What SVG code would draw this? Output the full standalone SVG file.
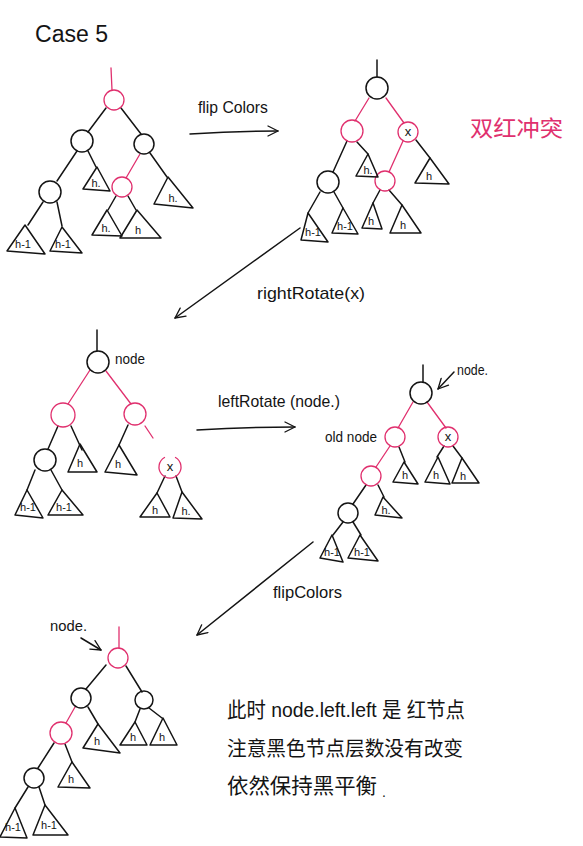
<svg xmlns="http://www.w3.org/2000/svg" width="583" height="846" viewBox="0 0 583 846">
<style>
  .bg{fill:#ffffff}
  .b{fill:none;stroke:#141414;stroke-width:1.5;stroke-linecap:round;stroke-linejoin:round}
  .r{fill:none;stroke:#e0306e;stroke-width:1.3;stroke-linecap:round;stroke-linejoin:round}
  .t{font-family:"Liberation Sans","Noto Sans CJK SC",sans-serif;fill:#141414}
  .lb{font-family:"Liberation Sans",sans-serif;fill:#141414;font-size:11px;text-anchor:middle}
  .cx{font-family:"Liberation Sans",sans-serif;fill:#141414;font-size:13px;text-anchor:middle}
  .pk{fill:#e0306e}
</style>
<defs>
  <marker id="arr" viewBox="0 0 12 12" refX="11" refY="6" markerWidth="12" markerHeight="12" markerUnits="userSpaceOnUse" orient="auto">
    <path d="M1,1 L11,6 L1,11" fill="none" stroke="#141414" stroke-width="1.3" stroke-linecap="round" stroke-linejoin="round"/>
  </marker>
</defs>
<rect class="bg" x="0" y="0" width="583" height="846"/>

<text class="t" x="35" y="42" font-size="23" textLength="73" lengthAdjust="spacingAndGlyphs">Case 5</text>

<!-- connectors -->
<g id="connectors">
  <!-- tree 1 -->
  <line class="r" x1="111" y1="68" x2="112" y2="90"/>
  <line class="b" x1="106" y1="108" x2="88" y2="132"/>
  <line class="b" x1="121" y1="108" x2="141" y2="134"/>
  <line class="b" x1="77" y1="151" x2="57" y2="181"/>
  <line class="b" x1="88" y1="151" x2="96" y2="167"/>
  <line class="r" x1="140" y1="154" x2="126" y2="178"/>
  <line class="b" x1="150" y1="153" x2="167" y2="177"/>
  <line class="b" x1="43" y1="202" x2="28" y2="225"/>
  <line class="b" x1="57" y1="202" x2="62" y2="226"/>
  <line class="b" x1="116" y1="196" x2="108" y2="210"/>
  <line class="b" x1="128" y1="196" x2="136" y2="210"/>
  <!-- tree 2 -->
  <line class="b" x1="377" y1="60" x2="377" y2="77"/>
  <line class="r" x1="369" y1="98" x2="355" y2="121"/>
  <line class="r" x1="386" y1="98" x2="404" y2="123"/>
  <line class="b" x1="347" y1="141" x2="333" y2="172"/>
  <line class="b" x1="357" y1="142" x2="368" y2="154"/>
  <line class="r" x1="403" y1="141" x2="389" y2="172"/>
  <line class="b" x1="416" y1="140" x2="430" y2="158"/>
  <line class="b" x1="320" y1="192" x2="308" y2="213"/>
  <line class="b" x1="334" y1="192" x2="343" y2="208"/>
  <line class="b" x1="380" y1="190" x2="373" y2="203"/>
  <line class="b" x1="389" y1="190" x2="402" y2="205"/>
  <!-- tree 3 -->
  <line class="b" x1="97" y1="330" x2="97" y2="351"/>
  <line class="r" x1="90" y1="370" x2="68" y2="404"/>
  <line class="r" x1="106" y1="371" x2="131" y2="404"/>
  <line class="b" x1="58" y1="426" x2="48" y2="449"/>
  <line class="b" x1="71" y1="426" x2="82" y2="450"/>
  <line class="b" x1="128" y1="425" x2="119" y2="445"/>
  <line class="r" x1="145" y1="426" x2="153" y2="438"/>
  <line class="b" x1="35" y1="470" x2="27" y2="490"/>
  <line class="b" x1="51" y1="470" x2="62" y2="490"/>
  <line class="b" x1="165" y1="476" x2="157" y2="493"/>
  <line class="b" x1="176" y1="476" x2="182" y2="492"/>
  <!-- tree 4 -->
  <line class="b" x1="423" y1="365" x2="423" y2="382"/>
  <line class="r" x1="413" y1="402" x2="398" y2="428"/>
  <line class="r" x1="427" y1="402" x2="446" y2="428"/>
  <line class="r" x1="390" y1="446" x2="376" y2="467"/>
  <line class="b" x1="399" y1="447" x2="405" y2="462"/>
  <line class="b" x1="444" y1="446" x2="437" y2="457"/>
  <line class="b" x1="453" y1="446" x2="462" y2="458"/>
  <line class="b" x1="366" y1="485" x2="353" y2="504"/>
  <line class="b" x1="378" y1="485" x2="384" y2="497"/>
  <line class="b" x1="343" y1="522" x2="333" y2="535"/>
  <line class="b" x1="353" y1="522" x2="361" y2="535"/>
  <!-- tree 5 -->
  <line class="r" x1="119" y1="627" x2="119" y2="648"/>
  <line class="b" x1="106" y1="665" x2="86" y2="689"/>
  <line class="b" x1="126" y1="666" x2="142" y2="692"/>
  <line class="r" x1="75" y1="707" x2="66" y2="723"/>
  <line class="b" x1="88" y1="707" x2="98" y2="724"/>
  <line class="b" x1="140" y1="709" x2="135" y2="722"/>
  <line class="b" x1="149" y1="708" x2="162" y2="718"/>
  <line class="b" x1="54" y1="743" x2="38" y2="768"/>
  <line class="b" x1="65" y1="744" x2="72" y2="762"/>
  <line class="b" x1="28" y1="787" x2="15" y2="808"/>
  <line class="b" x1="39" y1="787" x2="45" y2="805"/>
  <!-- transition arrows -->
  <path class="b" d="M190,134 Q235,131 278,131" marker-end="url(#arr)"/>
  <line class="b" x1="300" y1="228" x2="175" y2="318" stroke-width="1.2" marker-end="url(#arr)"/>
  <path class="b" d="M197,430 Q245,427 295,427" marker-end="url(#arr)"/>
  <line class="b" x1="313" y1="542" x2="197" y2="635" stroke-width="1.2" marker-end="url(#arr)"/>
  <line class="b" x1="454" y1="372" x2="438" y2="389" marker-end="url(#arr)"/>
  <line class="b" x1="81" y1="638" x2="101" y2="650" marker-end="url(#arr)"/>
</g>

<!-- transition labels -->
<text class="t" x="198" y="113" font-size="17" textLength="70" lengthAdjust="spacingAndGlyphs">flip Colors</text>
<text class="t pk" x="470" y="136" font-size="22" textLength="93" lengthAdjust="spacingAndGlyphs">双红冲突</text>
<text class="t" x="257" y="299" font-size="17" textLength="108" lengthAdjust="spacingAndGlyphs">rightRotate(x)</text>
<text class="t" x="218" y="407" font-size="17" textLength="122" lengthAdjust="spacingAndGlyphs">leftRotate (node.)</text>
<text class="t" x="273" y="598" font-size="17" textLength="69" lengthAdjust="spacingAndGlyphs">flipColors</text>

<!-- tree 1 -->
<g id="t1-root"><circle class="r" cx="114" cy="100" r="10"/></g>
<g id="t1-a"><circle class="b" cx="82" cy="141" r="11"/></g>
<g id="t1-b"><circle class="b" cx="144" cy="144" r="10"/></g>
<g id="t1-c"><circle class="b" cx="50" cy="192" r="11"/></g>
<g id="t1-d"><circle class="r" cx="122" cy="187" r="10"/></g>
<g id="t1-s1"><polygon class="b" points="97,167 83,189 110,191"/><text class="lb" x="96" y="187">h.</text></g>
<g id="t1-s2"><polygon class="b" points="25,225 7,251 45,254"/><text class="lb" x="23" y="248">h-1</text></g>
<g id="t1-s3"><polygon class="b" points="62,227 50,251 82,253"/><text class="lb" x="63" y="248">h-1</text></g>
<g id="t1-s4"><polygon class="b" points="168,177 154,204 193,208"/><text class="lb" x="173" y="202" font-size="12">h.</text></g>
<g id="t1-s5"><polygon class="b" points="107,210 92,235 122,236"/><text class="lb" x="106" y="232" font-size="12">h.</text></g>
<g id="t1-s6"><polygon class="b" points="137,210 120,238 161,238"/><text class="lb" x="138" y="234" font-size="12">h</text></g>

<!-- tree 2 -->
<g id="t2-root"><circle class="b" cx="377" cy="88" r="11"/></g>
<g id="t2-a"><circle class="r" cx="352" cy="131" r="11"/></g>
<g id="t2-x"><circle class="r" cx="408" cy="132" r="10"/><text class="cx" x="408" y="136">x</text></g>
<g id="t2-c"><circle class="b" cx="328" cy="182" r="11"/></g>
<g id="t2-d"><circle class="r" cx="385" cy="181" r="10"/></g>
<g id="t2-s1"><polygon class="b" points="368,154 356,176 378,177"/><text class="lb" x="368" y="174" font-size="10">h.</text></g>
<g id="t2-s2"><polygon class="b" points="430,158 415,183 449,184"/><text class="lb" x="429" y="180" font-size="12">h</text></g>
<g id="t2-s3"><polygon class="b" points="308,213 301,240 328,242"/><text class="lb" x="313" y="236" font-size="10">h-1</text></g>
<g id="t2-s4"><polygon class="b" points="343,208 332,233 358,234"/><text class="lb" x="345" y="230" font-size="10">h-1</text></g>
<g id="t2-s5"><polygon class="b" points="373,203 362,228 382,229"/><text class="lb" x="371" y="225" font-size="12">h</text></g>
<g id="t2-s6"><polygon class="b" points="402,205 390,233 421,233"/><text class="lb" x="403" y="229" font-size="12">h</text></g>

<!-- tree 3 -->
<g id="t3-node"><circle class="b" cx="98" cy="362" r="11"/><text class="t" x="115" y="364" font-size="15" textLength="30" lengthAdjust="spacingAndGlyphs">node</text></g>
<g id="t3-a"><circle class="r" cx="63" cy="415" r="12"/></g>
<g id="t3-b"><circle class="r" cx="135" cy="414" r="11"/></g>
<g id="t3-c"><circle class="b" cx="45" cy="460" r="11"/></g>
<g id="t3-x"><path class="r" d="M164.5,457.5 A11,11 0 1,0 175.5,457.5"/><text class="cx" x="170" y="471">x</text></g>
<g id="t3-s1"><polygon class="b" points="80,444 68,472 97,472"/><text class="lb" x="80" y="467" font-size="12">h</text></g>
<g id="t3-s2"><polygon class="b" points="119,445 105,472 137,475"/><text class="lb" x="118" y="468" font-size="12">h</text></g>
<g id="t3-s3"><polygon class="b" points="27,490 15,515 43,518"/><text class="lb" x="28" y="511">h-1</text></g>
<g id="t3-s4"><polygon class="b" points="62,490 48,515 83,515"/><text class="lb" x="64" y="511">h-1</text></g>
<g id="t3-s5"><polygon class="b" points="157,493 140,517 170,517"/><text class="lb" x="155" y="514" font-size="12">h</text></g>
<g id="t3-s6"><polygon class="b" points="182,492 173,518 202,519"/><text class="lb" x="186" y="515" font-size="12">h.</text></g>

<!-- tree 4 -->
<g id="t4-node"><circle class="b" cx="421" cy="393" r="11"/><text class="t" x="457" y="375" font-size="15" textLength="31" lengthAdjust="spacingAndGlyphs">node.</text></g>
<g id="t4-a"><circle class="r" cx="395" cy="437" r="10"/><text class="t" x="325" y="442" font-size="15" textLength="52" lengthAdjust="spacingAndGlyphs">old node</text></g>
<g id="t4-x"><circle class="r" cx="448" cy="437" r="10"/><text class="cx" x="448" y="441">x</text></g>
<g id="t4-b"><circle class="r" cx="371" cy="476" r="10"/></g>
<g id="t4-c"><circle class="b" cx="348" cy="513" r="10"/></g>
<g id="t4-s1"><polygon class="b" points="404,462 393,482 418,484"/><text class="lb" x="405" y="479" font-size="12">h</text></g>
<g id="t4-s2"><polygon class="b" points="438,457 425,482 450,484"/><text class="lb" x="436" y="479" font-size="12">h</text></g>
<g id="t4-s3"><polygon class="b" points="462,458 452,483 479,483"/><text class="lb" x="463" y="480" font-size="12">h</text></g>
<g id="t4-s4"><polygon class="b" points="383,497 375,515 402,518"/><text class="lb" x="386" y="514" font-size="11">h.</text></g>
<g id="t4-s5"><polygon class="b" points="332,535 320,558 343,562"/><text class="lb" x="332" y="556" font-size="10">h-1</text></g>
<g id="t4-s6"><polygon class="b" points="360,535 348,558 378,561"/><text class="lb" x="362" y="556" font-size="10">h-1</text></g>

<!-- tree 5 -->
<g id="t5-node"><circle class="r" cx="118" cy="658" r="10"/><text class="t" x="50" y="631" font-size="15" textLength="37" lengthAdjust="spacingAndGlyphs">node.</text></g>
<g id="t5-a"><circle class="b" cx="81" cy="698" r="10"/></g>
<g id="t5-b"><circle class="b" cx="144" cy="700" r="9"/></g>
<g id="t5-c"><circle class="r" cx="61" cy="733" r="11"/></g>
<g id="t5-d"><circle class="b" cx="34" cy="778" r="10"/></g>
<g id="t5-s1"><polygon class="b" points="98,724 83,748 120,753"/><text class="lb" x="97" y="745" font-size="12">h</text></g>
<g id="t5-s2"><polygon class="b" points="135,722 120,745 147,745"/><text class="lb" x="133" y="741" font-size="12">h</text></g>
<g id="t5-s3"><polygon class="b" points="163,718 150,745 177,745"/><text class="lb" x="162" y="741" font-size="12">h</text></g>
<g id="t5-s4"><polygon class="b" points="72,762 58,787 90,788"/><text class="lb" x="71" y="783" font-size="12">h</text></g>
<g id="t5-s5"><polygon class="b" points="15,808 0,837 27,838"/><text class="lb" x="13" y="831">h-1</text></g>
<g id="t5-s6"><polygon class="b" points="45,805 33,835 68,835"/><text class="lb" x="49" y="829">h-1</text></g>

<!-- note -->
<text class="t" x="227" y="717" font-size="21" textLength="238" lengthAdjust="spacingAndGlyphs">此时 node.left.left 是 红节点</text>
<text class="t" x="227" y="756" font-size="20" textLength="236" lengthAdjust="spacingAndGlyphs">注意黑色节点层数没有改变</text>
<text class="t" x="227" y="793" font-size="21" textLength="150" lengthAdjust="spacingAndGlyphs">依然保持黑平衡</text>
<text class="t" x="382" y="797" font-size="14">.</text>
</svg>
